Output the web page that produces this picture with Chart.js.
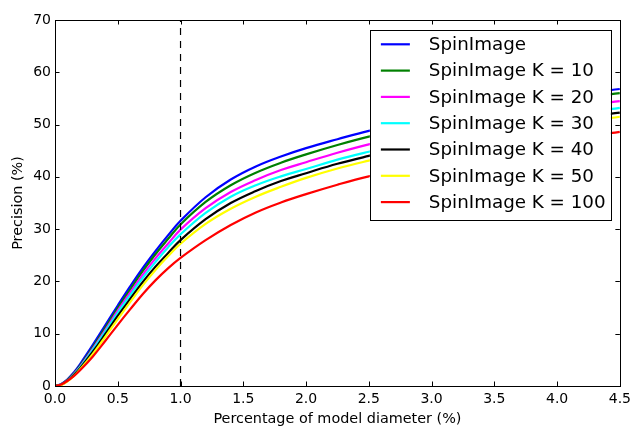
<!DOCTYPE html>
<html>
<head>
<meta charset="utf-8">
<script src="https://cdn.jsdelivr.net/npm/chart.js@4.4.1/dist/chart.umd.min.js"></script>
<style>
  html, body { margin: 0; padding: 0; background: #fff; }
  #wrap { width: 636px; height: 428px; }
</style>
</head>
<body>
<div id="wrap"><canvas id="c" width="636" height="428"></canvas></div>
<script>
// Precision vs. support radius (percentage of model diameter)
const diameterPct = [0, 0.05, 0.1, 0.15, 0.2, 0.3, 0.4, 0.5, 0.6, 0.7, 0.8, 0.9, 1.0,
  1.2, 1.4, 1.6, 1.8, 2.0, 2.25, 2.5, 3.0, 3.5, 4.0, 4.5];

const spinImage     = [0, 0.4, 1.3, 2.6, 4.2, 7.8, 11.6, 15.4, 19.1, 22.6, 25.8, 28.8, 31.6,
  36.1, 39.5, 42.0, 43.9, 45.5, 47.2, 48.8, 51.5, 53.6, 55.3, 56.8];
const spinImageK10  = [0, 0.35, 1.2, 2.4, 3.9, 7.4, 11.1, 14.9, 18.5, 22.0, 25.2, 28.1, 30.9,
  35.2, 38.4, 40.8, 42.7, 44.3, 46.1, 47.7, 50.5, 52.7, 54.5, 56.0];
const spinImageK20  = [0, 0.3, 1.1, 2.3, 3.7, 7.1, 10.7, 14.4, 17.9, 21.3, 24.4, 27.2, 29.9,
  34.0, 37.1, 39.4, 41.3, 42.8, 44.6, 46.2, 49.0, 51.2, 53.0, 54.5];
const spinImageK30  = [0, 0.3, 1.05, 2.2, 3.6, 6.9, 10.4, 14.0, 17.4, 20.7, 23.7, 26.5, 29.0,
  33.1, 36.2, 38.4, 40.1, 41.5, 43.3, 44.8, 47.6, 49.8, 51.6, 53.2];
const spinImageK40  = [0, 0.25, 1.0, 2.1, 3.4, 6.5, 9.9, 13.4, 16.7, 19.9, 22.8, 25.4, 27.9,
  31.9, 35.0, 37.3, 39.2, 40.7, 42.5, 44.0, 46.8, 49.0, 50.8, 52.3];
const spinImageK50  = [0, 0.2, 0.9, 1.9, 3.2, 6.1, 9.4, 12.8, 16.1, 19.3, 22.2, 24.8, 27.2,
  31.0, 33.9, 36.2, 38.1, 39.8, 41.6, 43.1, 45.9, 48.1, 49.9, 51.5];
const spinImageK100 = [0, 0.3, 1.0, 1.9, 3.0, 5.6, 8.6, 11.7, 14.7, 17.6, 20.2, 22.5, 24.5,
  27.9, 30.8, 33.2, 35.1, 36.7, 38.5, 40.1, 42.8, 45.0, 47.0, 48.6];

const seriesNames = ['SpinImage', 'SpinImage K = 10', 'SpinImage K = 20', 'SpinImage K = 30',
  'SpinImage K = 40', 'SpinImage K = 50', 'SpinImage K = 100'];
const seriesValues = [spinImage, spinImageK10, spinImageK20, spinImageK30,
  spinImageK40, spinImageK50, spinImageK100];
const seriesColors = ['#0000ff', '#008000', '#ff00ff', '#00ffff', '#000000', '#ffff00', '#ff0000'];

const xTicks = [0, 0.5, 1.0, 1.5, 2.0, 2.5, 3.0, 3.5, 4.0, 4.5];
const yTicks = [0, 10, 20, 30, 40, 50, 60, 70];
const markerX = 1.0;

const FONT = 'DejaVu Sans';

const datasets = seriesValues.map((vals, i) => ({
  label: seriesNames[i],
  data: vals.map((v, j) => ({ x: diameterPct[j], y: v })),
  borderColor: seriesColors[i],
  borderWidth: 2.2,
  pointRadius: 0,
  tension: 0.4,
  fill: false,
  order: seriesValues.length - i,
}));

// vertical dashed reference line
datasets.push({
  label: 'marker',
  data: [{ x: markerX, y: yTicks[0] }, { x: markerX, y: yTicks[yTicks.length - 1] }],
  borderColor: '#000',
  borderWidth: 1.2,
  borderDash: [7, 6],
  pointRadius: 0,
  tension: 0,
  fill: false,
  order: 0,
});

// matplotlib-style frame with inward ticks on all four sides
const framePlugin = {
  id: 'frame',
  afterDatasetsDraw(chart) {
    const { ctx, chartArea: a, scales } = chart;
    const len = 4.5;
    ctx.save();
    ctx.strokeStyle = '#000';
    ctx.lineWidth = 1;
    ctx.beginPath();
    xTicks.forEach((t) => {
      const px = Math.round(scales.x.getPixelForValue(t)) + 0.5;
      ctx.moveTo(px, a.bottom); ctx.lineTo(px, a.bottom - len);
      ctx.moveTo(px, a.top); ctx.lineTo(px, a.top + len);
    });
    yTicks.forEach((t) => {
      const py = Math.round(scales.y.getPixelForValue(t)) + 0.5;
      ctx.moveTo(a.left, py); ctx.lineTo(a.left + len, py);
      ctx.moveTo(a.right, py); ctx.lineTo(a.right - len, py);
    });
    ctx.stroke();
    ctx.strokeRect(Math.round(a.left) + 0.5, Math.round(a.top) + 0.5,
      Math.round(a.right - a.left), Math.round(a.bottom - a.top));
    ctx.restore();
  },
};

// boxed legend in the upper right of the plot
const legendPlugin = {
  id: 'boxLegend',
  afterDraw(chart) {
    const { ctx, chartArea: a } = chart;
    const right = a.right - 9, top = a.top + 10;
    const w = 241, rowH = 26.3, h = 190;
    const left = right - w;
    ctx.save();
    ctx.fillStyle = '#fff';
    ctx.fillRect(left, top, w, h);
    ctx.strokeStyle = '#000';
    ctx.lineWidth = 1;
    ctx.strokeRect(Math.round(left) + 0.5, Math.round(top) + 0.5, Math.round(w), Math.round(h));
    ctx.font = '18.3px "' + FONT + '"';
    ctx.textBaseline = 'middle';
    ctx.textAlign = 'left';
    seriesNames.forEach((name, i) => {
      const y = top + 14.3 + i * rowH;
      ctx.strokeStyle = seriesColors[i];
      ctx.lineWidth = 2.2;
      ctx.beginPath();
      ctx.moveTo(left + 11, y);
      ctx.lineTo(left + 40, y);
      ctx.stroke();
      ctx.fillStyle = '#000';
      ctx.fillText(name, left + 59, y + 1);
    });
    ctx.restore();
  },
};

new Chart(document.getElementById('c'), {
  type: 'line',
  data: { datasets },
  plugins: [framePlugin, legendPlugin],
  options: {
    responsive: false,
    animation: false,
    layout: { padding: { left: 0, right: 14, top: 20, bottom: 0 } },
    plugins: { legend: { display: false }, tooltip: { enabled: false } },
    scales: {
      x: {
        type: 'linear',
        min: 0, max: 4.5,
        afterBuildTicks(scale) { scale.ticks = xTicks.map((v) => ({ value: v })); },
        afterFit(scale) { scale.height = 42; },
        grid: { display: false, drawTicks: false },
        border: { display: false },
        ticks: {
          color: '#000', padding: 5, maxRotation: 0,
          font: { family: FONT, size: 14 },
          callback: (v) => Number(v).toFixed(1),
        },
        title: {
          display: true, text: 'Percentage of model diameter (%)', color: '#000',
          font: { family: FONT, size: 14.4 }, padding: { top: 0, bottom: 0 },
        },
      },
      y: {
        type: 'linear',
        min: 0, max: 70,
        afterBuildTicks(scale) { scale.ticks = yTicks.map((v) => ({ value: v })); },
        afterFit(scale) { scale.width = 55; },
        grid: { display: false, drawTicks: false },
        border: { display: false },
        ticks: {
          color: '#000', padding: 4,
          font: { family: FONT, size: 14 },
          callback: (v) => String(v),
        },
        title: {
          display: true, text: 'Precision (%)', color: '#000',
          font: { family: FONT, size: 14.4 }, padding: { top: 10, bottom: 0 },
        },
      },
    },
  },
});
</script>
</body>
</html>
